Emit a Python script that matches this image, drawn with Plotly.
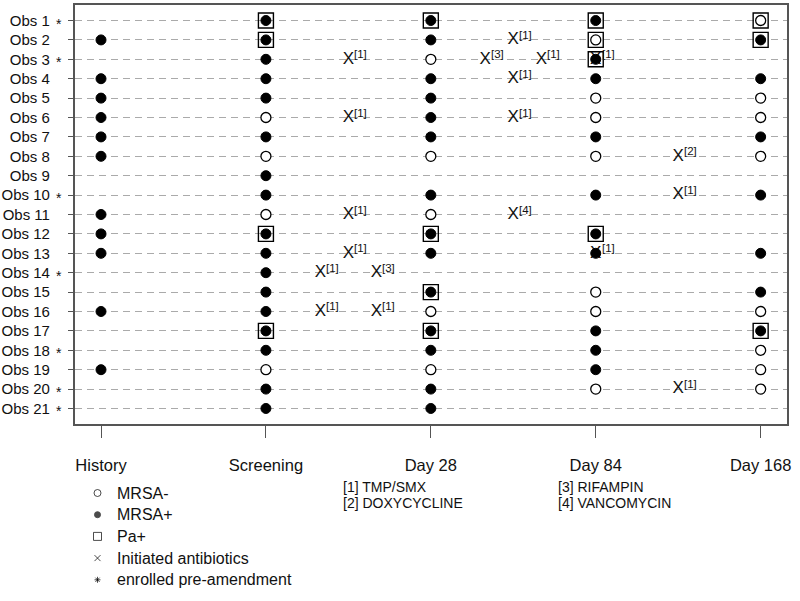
import plotly.graph_objects as go

# ---------------- data ----------------
visits = ["History", "Screening", "Day 28", "Day 84", "Day 168"]
obs_labels = ["Obs 1", "Obs 2", "Obs 3", "Obs 4", "Obs 5", "Obs 6", "Obs 7",
              "Obs 8", "Obs 9", "Obs 10", "Obs 11", "Obs 12", "Obs 13", "Obs 14",
              "Obs 15", "Obs 16", "Obs 17", "Obs 18", "Obs 19", "Obs 20", "Obs 21"]
pre_amendment = ["Obs 1", "Obs 3", "Obs 10", "Obs 14", "Obs 18", "Obs 20", "Obs 21"]

# MRSA culture per visit: "+" positive, "-" negative, "" not available
mrsa_history   = ["", "+", "", "+", "+", "+", "+", "+", "", "", "+", "+", "+", "", "", "+", "", "", "+", "", ""]
mrsa_screening = ["+", "+", "+", "+", "+", "-", "+", "-", "+", "+", "-", "+", "+", "+", "+", "+", "+", "+", "-", "+", "+"]
mrsa_day28     = ["+", "+", "-", "+", "+", "+", "+", "-", "", "+", "-", "+", "+", "", "+", "-", "+", "+", "-", "+", "+"]
mrsa_day84     = ["+", "-", "+", "+", "-", "-", "+", "-", "", "+", "", "+", "+", "", "-", "-", "+", "+", "+", "-", ""]
mrsa_day168    = ["-", "+", "", "+", "-", "-", "+", "-", "", "+", "", "", "+", "", "+", "-", "+", "-", "-", "-", ""]
mrsa_by_visit = [mrsa_history, mrsa_screening, mrsa_day28, mrsa_day84, mrsa_day168]

# Pseudomonas aeruginosa positive
pa_history = []
pa_screening = ["Obs 1", "Obs 2", "Obs 12", "Obs 17"]
pa_day28 = ["Obs 1", "Obs 12", "Obs 15", "Obs 17"]
pa_day84 = ["Obs 1", "Obs 2", "Obs 3", "Obs 12"]
pa_day168 = ["Obs 1", "Obs 2", "Obs 17"]
pa_by_visit = [pa_history, pa_screening, pa_day28, pa_day84, pa_day168]

# antibiotic initiations (time on the visit scale, drug code)
abx_obs = ["Obs 2", "Obs 3", "Obs 3", "Obs 3", "Obs 3", "Obs 4", "Obs 6", "Obs 6",
           "Obs 8", "Obs 10", "Obs 11", "Obs 11", "Obs 13", "Obs 13", "Obs 14",
           "Obs 14", "Obs 16", "Obs 16", "Obs 20"]
abx_time = [3.5, 2.5, 3.33, 3.67, 4.0, 3.5, 2.5, 3.5, 4.5, 4.5, 2.5, 3.5, 2.5, 4.0,
            2.33, 2.67, 2.33, 2.67, 4.5]
abx_code = [1, 1, 3, 1, 1, 1, 1, 1, 2, 1, 1, 4, 1, 1, 1, 3, 1, 1, 1]
abx_names = ["[1] TMP/SMX", "[2] DOXYCYCLINE", "[3] RIFAMPIN", "[4] VANCOMYCIN"]

legend_labels = ["MRSA-", "MRSA+", "Pa+", "Initiated antibiotics", "enrolled pre-amendment"]
legend_symbols = ["circle-open", "circle", "square-open", "x-thin-open", "asterisk-open"]

# ---------------- build ----------------
FONT = "Liberation Sans, Arial, sans-serif"
row = {lab: i + 1 for i, lab in enumerate(obs_labels)}

pos_x, pos_y, neg_x, neg_y = [], [], [], []
for vi, col in enumerate(mrsa_by_visit):
    for oi, s in enumerate(col):
        if s == "+":
            pos_x.append(vi + 1); pos_y.append(oi + 1)
        elif s == "-":
            neg_x.append(vi + 1); neg_y.append(oi + 1)
pa_x, pa_y = [], []
for vi, col in enumerate(pa_by_visit):
    for o in col:
        pa_x.append(vi + 1); pa_y.append(row[o])

fig = go.Figure()

# "X" glyphs (drawn beneath the culture markers)
fig.add_trace(go.Scatter(x=abx_time, y=[row[o] for o in abx_obs], mode="text",
                         text=["X"] * len(abx_time), textposition="middle center",
                         textfont=dict(family=FONT, size=17, color="#111"),
                         hoverinfo="skip", showlegend=False))
fig.add_trace(go.Scatter(x=neg_x, y=neg_y, mode="markers",
                         marker=dict(symbol="circle", size=10, color="white",
                                     line=dict(color="black", width=1.3)),
                         showlegend=False))
fig.add_trace(go.Scatter(x=pos_x, y=pos_y, mode="markers",
                         marker=dict(symbol="circle", size=10, color="black",
                                     line=dict(color="black", width=1)),
                         showlegend=False))
fig.add_trace(go.Scatter(x=pa_x, y=pa_y, mode="markers",
                         marker=dict(symbol="square-open", size=15, color="black",
                                     line=dict(color="#222", width=1.4)),
                         showlegend=False))

# legend on an overlay axis (pixel-like coordinates)
leg_x0, leg_y0, leg_dy = 98, 493, 21.7
fig.add_trace(go.Scatter(x=[leg_x0] * len(legend_labels),
                         y=[leg_y0 + i * leg_dy for i in range(len(legend_labels))],
                         mode="markers", xaxis="x2", yaxis="y2",
                         marker=dict(symbol=legend_symbols, size=[7, 6, 8, 6, 5],
                                     color="black", line=dict(color="black", width=1)),
                         showlegend=False, hoverinfo="skip"))

annotations = []
# superscript drug codes next to each X
for t, o, c in zip(abx_time, abx_obs, abx_code):
    annotations.append(dict(x=t, y=row[o], xref="x", yref="y", text=f"[{c}]",
                            showarrow=False, xanchor="left", yanchor="bottom",
                            xshift=5, yshift=-2, borderpad=0,
                            font=dict(family=FONT, size=11.5, color="#111")))
for i, lab in enumerate(legend_labels):
    annotations.append(dict(x=116, y=leg_y0 + i * leg_dy, xref="x2", yref="y2",
                            text=lab, showarrow=False, xanchor="left", yanchor="middle",
                            font=dict(family=FONT, size=16, color="#111")))
key_x = [343, 343, 559, 559]
key_y = [487, 503, 487, 503]
for name, kx, ky in zip(abx_names, key_x, key_y):
    annotations.append(dict(x=kx, y=ky, xref="x2", yref="y2", text=name,
                            showarrow=False, xanchor="left", yanchor="middle",
                            font=dict(family=FONT, size=14, color="#111")))
for o in pre_amendment:
    annotations.append(dict(x=59.5 / 800, y=row[o], xref="paper", yref="y", text="*",
                            showarrow=False, xanchor="center", yanchor="middle",
                            yshift=-3, font=dict(family=FONT, size=14, color="#111")))

fig.update_layout(
    width=800, height=601,
    margin=dict(l=0, r=0, t=0, b=0),
    paper_bgcolor="white", plot_bgcolor="rgba(0,0,0,0)",
    showlegend=False,
    annotations=annotations,
    xaxis=dict(domain=[75 / 800, 791 / 800], range=[0.84, 5.16],
               tickvals=[1, 2, 3, 4, 5], ticktext=visits,
               ticks="outside", ticklen=12, tickwidth=1.3, tickcolor="#555",
               showline=True, mirror=True, linecolor="#555", linewidth=1.5,
               showgrid=False, zeroline=False, ticklabelstandoff=13,
               tickfont=dict(family=FONT, size=16.5, color="#111")),
    yaxis=dict(domain=[1 - 424 / 601, 1 - 5 / 601], range=[21.8, 0.2],
               tickvals=list(range(1, len(obs_labels) + 1)), ticktext=obs_labels,
               ticks="outside", ticklen=5, tickwidth=1.3, tickcolor="#555",
               showline=True, mirror=True, linecolor="#555", linewidth=1.5,
               showgrid=True, gridcolor="#aaaaaa", gridwidth=1, griddash="7px,5px",
               zeroline=False, ticklabelstandoff=15,
               tickfont=dict(family=FONT, size=15, color="#111")),
    xaxis2=dict(domain=[0, 1], range=[0, 800], visible=False, anchor="y2"),
    yaxis2=dict(domain=[0, 1], range=[601, 0], visible=False, anchor="x2"),
)

fig.write_html("out.html", config={"displayModeBar": False},
               post_script="document.body.style.margin='0px';")
